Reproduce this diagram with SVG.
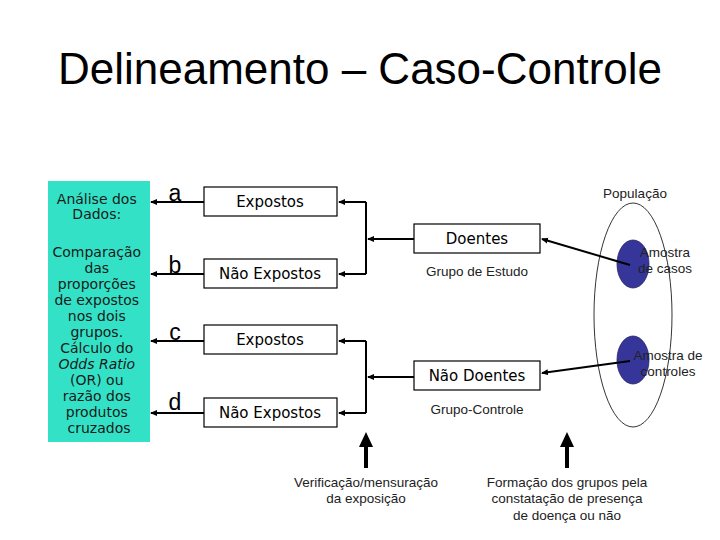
<svg xmlns="http://www.w3.org/2000/svg" width="720" height="540" viewBox="0 0 720 540">
<style>
.title{font-family:"Liberation Sans",Arial,sans-serif;font-size:44px;fill:#000}
.lbl{font-family:"DejaVu Sans",Verdana,sans-serif;font-size:14px;fill:#1a1a1a}
.box{fill:#fff;stroke:#000;stroke-width:1.2}
.bt{font-family:"DejaVu Sans",Verdana,sans-serif;font-size:15px;fill:#000}
.let{font-family:"Liberation Sans",Arial,sans-serif;font-size:23px;fill:#000}
.sm{font-family:"Liberation Sans",Arial,sans-serif;font-size:13.5px;fill:#222}
.con{stroke:#000;stroke-width:2;fill:none}
</style>
<defs>
<marker id="ah" markerWidth="8" markerHeight="8" refX="6" refY="4" orient="auto" markerUnits="userSpaceOnUse">
<path d="M0,1 L7,4 L0,7 Z" fill="#000"/>
</marker>
</defs>
<rect width="720" height="540" fill="#fff"/>
<text class="title" x="360" y="84" text-anchor="middle">Delineamento – Caso-Controle</text>

<g id="analise">
<rect x="48" y="181" width="102" height="261" fill="#33E2C6"/>
<text class="lbl" text-anchor="middle">
<tspan x="99" y="204">Análise dos</tspan>
<tspan x="99" y="219">Dados:</tspan>
<tspan x="99" y="257">Comparação</tspan>
<tspan x="99" y="273">das</tspan>
<tspan x="99" y="289">proporções</tspan>
<tspan x="99" y="305">de expostos</tspan>
<tspan x="99" y="321">nos dois</tspan>
<tspan x="99" y="337">grupos.</tspan>
<tspan x="99" y="353">Cálculo do</tspan>
<tspan x="99" y="369" font-style="italic">Odds Ratio</tspan>
<tspan x="99" y="385">(OR) ou</tspan>
<tspan x="99" y="401">razão dos</tspan>
<tspan x="99" y="417">produtos</tspan>
<tspan x="99" y="433">cruzados</tspan>
</text>
</g>

<g id="letters">
<text class="let" x="175" y="201" text-anchor="middle">a</text>
<text class="let" x="175" y="273" text-anchor="middle">b</text>
<text class="let" x="175" y="340" text-anchor="middle">c</text>
<text class="let" x="175" y="410" text-anchor="middle">d</text>
</g>

<g id="exp1"><rect class="box" x="204" y="187" width="133" height="29"/><text class="bt" x="270" y="207" text-anchor="middle">Expostos</text></g>
<g id="naoexp1"><rect class="box" x="204" y="259" width="133" height="29"/><text class="bt" x="270" y="279" text-anchor="middle">Não Expostos</text></g>
<g id="exp2"><rect class="box" x="204" y="325" width="133" height="29"/><text class="bt" x="270" y="345" text-anchor="middle">Expostos</text></g>
<g id="naoexp2"><rect class="box" x="204" y="398" width="133" height="29"/><text class="bt" x="270" y="418" text-anchor="middle">Não Expostos</text></g>

<g id="doentes"><rect class="box" x="414" y="224" width="126" height="29"/><text class="bt" x="477" y="244" text-anchor="middle">Doentes</text>
<text class="sm" x="477" y="276" text-anchor="middle">Grupo de Estudo</text></g>
<g id="naodoentes"><rect class="box" x="414" y="361" width="126" height="29"/><text class="bt" x="477" y="381" text-anchor="middle">Não Doentes</text>
<text class="sm" x="477" y="414" text-anchor="middle">Grupo-Controle</text></g>

<g id="populacao">
<ellipse cx="633" cy="315" rx="39" ry="112" fill="none" stroke="#000" stroke-width="0.8"/>
<text class="sm" x="635" y="198" text-anchor="middle">População</text>
</g>
<g id="casos">
<ellipse cx="633" cy="264" rx="16" ry="24" fill="#36369A" stroke="#22226a" stroke-width="0.8"/>
<text class="sm" text-anchor="middle"><tspan x="665" y="257">Amostra</tspan><tspan x="665" y="273">de casos</tspan></text>
</g>
<g id="controles">
<ellipse cx="633" cy="360" rx="16" ry="24" fill="#36369A" stroke="#22226a" stroke-width="0.8"/>
<text class="sm" text-anchor="middle"><tspan x="668" y="360">Amostra de</tspan><tspan x="668" y="376">controles</tspan></text>
</g>

<g id="connectors">
<path class="con" d="M204,202 H151" marker-end="url(#ah)"/>
<path class="con" d="M204,274 H151" marker-end="url(#ah)"/>
<path class="con" d="M204,341 H151" marker-end="url(#ah)"/>
<path class="con" d="M204,413 H151" marker-end="url(#ah)"/>
<path class="con" d="M366,202 V274"/>
<path class="con" d="M366,202 H339" marker-end="url(#ah)"/>
<path class="con" d="M366,274 H339" marker-end="url(#ah)"/>
<path class="con" d="M414,239 H368" marker-end="url(#ah)"/>
<path class="con" d="M366,341 V413"/>
<path class="con" d="M366,341 H339" marker-end="url(#ah)"/>
<path class="con" d="M366,413 H339" marker-end="url(#ah)"/>
<path class="con" d="M414,377 H368" marker-end="url(#ah)"/>
<path class="con" d="M630,265 L542,239" marker-end="url(#ah)"/>
<path class="con" d="M630,361 L542,373" marker-end="url(#ah)"/>
<path d="M364,446 H368 V468 H364 Z M359,447 L366,432 L373,447 Z" fill="#000"/>
<path d="M565,446 H569 V468 H565 Z M560,447 L567,432 L574,447 Z" fill="#000"/>
</g>

<g id="bottomtexts">
<text class="sm" text-anchor="middle"><tspan x="366" y="487">Verificação/mensuração</tspan><tspan x="366" y="503">da exposição</tspan></text>
<text class="sm" text-anchor="middle"><tspan x="567" y="487">Formação dos grupos pela</tspan><tspan x="567" y="503">constatação de presença</tspan><tspan x="567" y="520">de doença ou não</tspan></text>
</g>
</svg>
